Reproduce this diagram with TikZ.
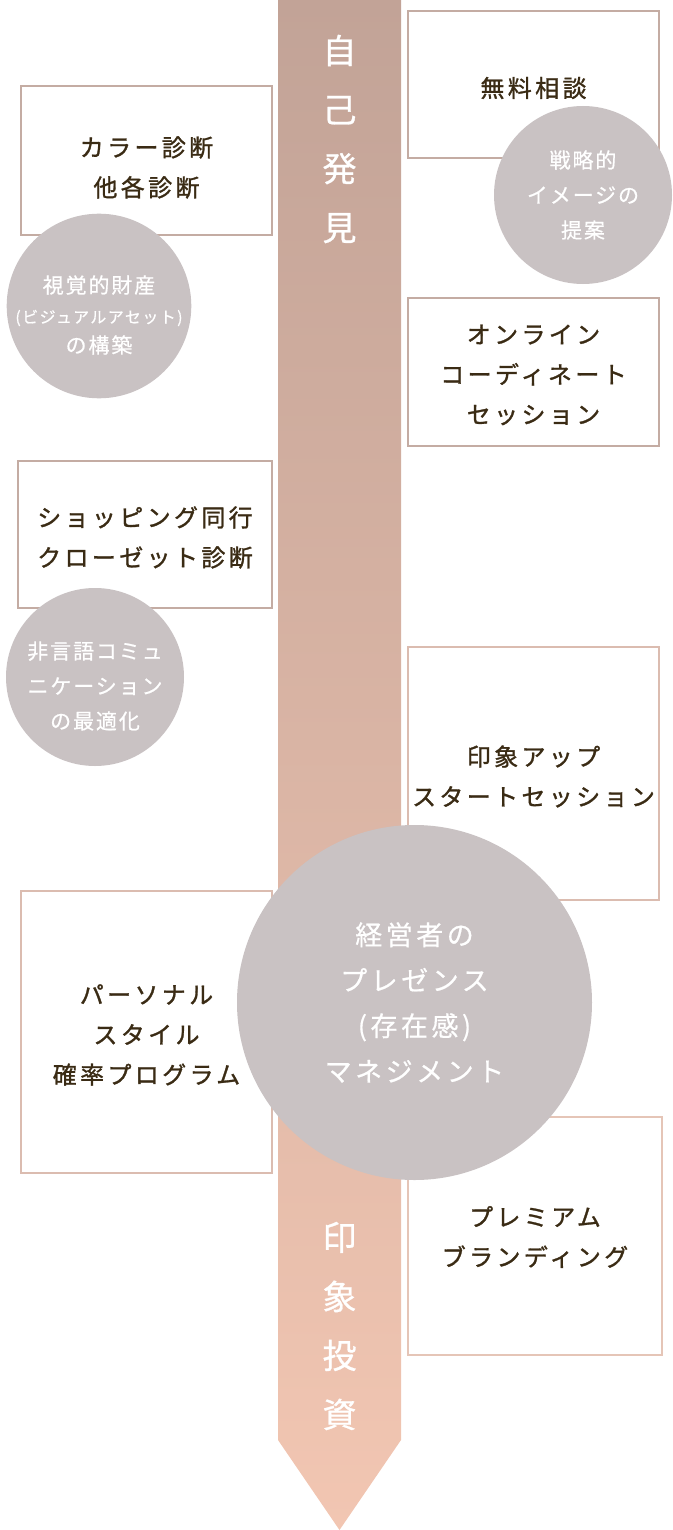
\documentclass[tikz,border=0pt]{standalone}
\usepackage{fontspec}
\setmainfont{Noto Sans CJK JP}
\newfontfamily\cardfont[LetterSpace=14, FakeBold=1.2]{Noto Sans CJK JP}
\newfontfamily\bubblefont[LetterSpace=9, FakeBold=0.6]{Noto Sans CJK JP}
\newfontfamily\bigfont[LetterSpace=13, FakeBold=0.6]{Noto Sans CJK JP}
\newfontfamily\stemfont[FakeBold=0.8]{Noto Sans CJK JP}
\usetikzlibrary{positioning}
\definecolor{stemtop}{HTML}{C2A397}
\definecolor{stembottom}{HTML}{F2C6B2}
\definecolor{bubblegray}{HTML}{C9C2C3}
\definecolor{inkbrown}{HTML}{3A2B14}
\definecolor{edgetaupe}{HTML}{C4ACA3}
\definecolor{edgerose}{HTML}{DBBCB0}
\definecolor{edgepeach}{HTML}{E5C5B7}
\newcommand\sunk[2]{\raisebox{-#1}[\height][\depth]{#2}}
\tikzset{
  x=1pt, y=-1pt,
  card/.style={draw=edgetaupe, line width=2pt, fill=white, inner sep=0pt,
    align=center, text=inkbrown, font=\cardfont\fontsize{24}{40}\selectfont},
  bubble/.style={circle, fill=bubblegray, minimum size=178pt, inner sep=0pt,
    align=center, text=white, font=\bubblefont\fontsize{21}{35}\selectfont},
  bigbubble/.style={bubble, minimum size=355pt, font=\bigfont\fontsize{27}{45.5}\selectfont},
  stemlabel/.style={align=center, text=white, font=\stemfont\fontsize{34}{59}\selectfont},
}

\begin{document}
\begin{tikzpicture}
      \useasboundingbox (0,0) rectangle (672,1530);
      \shade[top color=stemtop, bottom color=stembottom]
        (278,0) -- (401,0) -- (401,1440) -- (339.5,1530) -- (278,1440) -- cycle;
      \node[stemlabel] (discover) at (339.5,139) {自\\己\\発\\見};
      \node[stemlabel] (invest) at (339.5,1326) {印\\象\\投\\資};

      \node[card, minimum width=251, minimum height=147] (consult) at (533.5,85) {\sunk{3pt}{無料相談}};
      \node[card, minimum width=251, minimum height=149] (colour) at (146.5,160.5) {\sunk{7pt}{カラー診断}\\\sunk{7pt}{他各診断}};
      \node[card, minimum width=251, minimum height=148] (online) at (533.5,372) {\sunk{3pt}{オンライン}\\\sunk{3pt}{コーディネート}\\\sunk{3pt}{セッション}};
      \node[card, minimum width=254, minimum height=147] (shopping) at (145,534.5) {\sunk{3pt}{ショッピング同行}\\\sunk{3pt}{クローゼット診断}};
      \node[card, draw=edgerose, minimum width=251, minimum height=253] (startup) at (533.5,773.5) {\sunk{3pt}{印象アップ}\\\sunk{3pt}{スタートセッション}};
      \node[card, draw=edgerose, minimum width=251, minimum height=282] (personal) at (146.5,1032) {\sunk{3pt}{パーソナル}\\\sunk{3pt}{スタイル}\\\sunk{3pt}{確率プログラム}};
      \node[card, draw=edgepeach, minimum width=254, minimum height=238] (premium) at (535,1236) {\sunk{1pt}{プレミアム}\\\sunk{1pt}{ブランディング}};

      \node[bubble] (strategy) at (583,195) {戦略的\\イメージの\\提案};
      \node[bubble, font=\bubblefont\fontsize{21}{30}\selectfont] (visual) at (99,306)
        {\sunk{9pt}{視覚的財産}\\\sunk{9pt}{\fontsize{16}{30}\selectfont(ビジュアルアセット)}\\\sunk{9pt}{の構築}};
      \node[bubble] (nonverbal) at (95,677) {\sunk{9pt}{非言語コミュ}\\\sunk{9pt}{ニケーション}\\\sunk{9pt}{の最適化}};
      \node[bigbubble] (presence) at (414.5,1002.5) {経営者の\\プレゼンス\\(存在感)\\マネジメント};
\end{tikzpicture}
\end{document}
